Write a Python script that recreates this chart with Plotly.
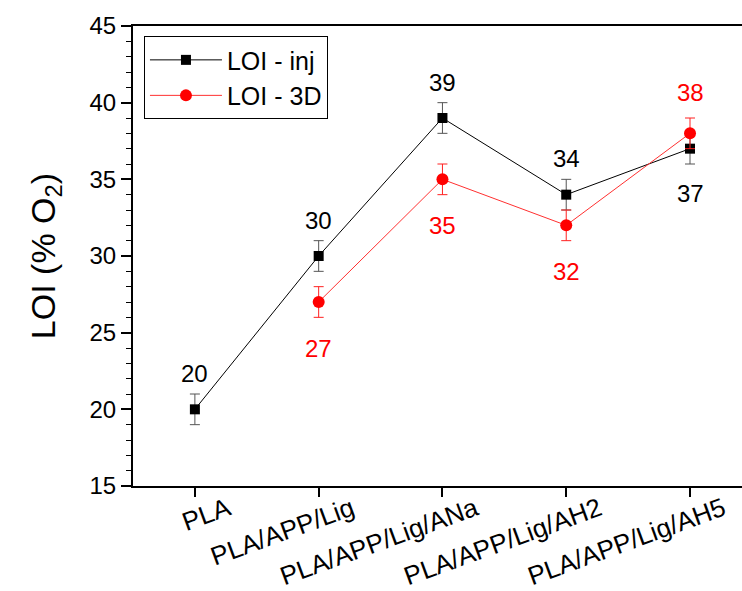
import plotly.graph_objects as go

categories = ["PLA", "PLA/APP/Lig", "PLA/APP/Lig/ANa", "PLA/APP/Lig/AH2", "PLA/APP/Lig/AH5"]
x_idx = [0, 1, 2, 3, 4]
loi_inj = [20, 30, 39, 34, 37]
loi_inj_err = [1, 1, 1, 1, 1]
x_3d = [1, 2, 3, 4]
loi_3d = [27, 35, 32, 38]
loi_3d_err = [1, 1, 1, 1]
inj_label_above = [True, True, True, True, False]
d3_label_above = [False, False, False, True]

FONT = "Arial, Liberation Sans, sans-serif"

fig = go.Figure()
fig.add_trace(go.Scatter(
    x=x_idx, y=loi_inj, mode="lines+markers", name="LOI - inj",
    line=dict(color="black", width=1),
    marker=dict(symbol="square", size=10, color="black"),
    error_y=dict(type="data", array=loi_inj_err, color="#555555", thickness=1, width=5),
))
fig.add_trace(go.Scatter(
    x=x_3d, y=loi_3d, mode="lines+markers", name="LOI - 3D",
    line=dict(color="#ff3030", width=1),
    marker=dict(symbol="circle", size=12, color="#ff0000"),
    error_y=dict(type="data", array=loi_3d_err, color="#ff2020", thickness=1, width=5),
))

for xi, v, up in zip(x_idx, loi_inj, inj_label_above):
    fig.add_annotation(x=xi, y=v, text=str(v), showarrow=False,
                       yshift=36 if up else -45,
                       font=dict(family=FONT, size=24, color="black"))
for xi, v, up in zip(x_3d, loi_3d, d3_label_above):
    fig.add_annotation(x=xi, y=v, text=str(v), showarrow=False,
                       yshift=41 if up else -46,
                       font=dict(family=FONT, size=24, color="#ff0000"))

fig.update_layout(
    width=742, height=591,
    margin=dict(l=133, r=0, t=26, b=105),
    paper_bgcolor="white", plot_bgcolor="white",
    font=dict(family=FONT, size=24, color="black"),
    showlegend=True,
    legend=dict(x=0.018, y=0.978, xanchor="left", yanchor="top",
                bordercolor="black", borderwidth=1, bgcolor="white",
                font=dict(family=FONT, size=25), tracegroupgap=0,
                itemwidth=72),
)
fig.update_xaxes(
    range=[-0.5, 4.42], tickmode="array", tickvals=x_idx, ticktext=categories,
    tickangle=-20, ticks="outside", ticklen=9, tickwidth=1.5, tickcolor="black",
    showline=True, linecolor="black", linewidth=2, mirror=True,
    showgrid=False, zeroline=False, ticklabelshift=33, ticklabelstandoff=-13,
    tickfont=dict(family=FONT, size=26), automargin=False,
)
fig.update_yaxes(
    range=[15, 45], tickmode="linear", tick0=15, dtick=5,
    ticks="outside", ticklen=10, tickwidth=1.5, tickcolor="black",
    minor=dict(ticks="outside", ticklen=5, dtick=1, tickcolor="black", tickwidth=1),
    showline=True, linecolor="black", linewidth=2, mirror=False,
    showgrid=False, zeroline=False, automargin=False,
    tickfont=dict(family=FONT, size=24),
    title=dict(text="LOI (% O<sub>2</sub>)", font=dict(family=FONT, size=34), standoff=24),
)

fig.write_html("out.html")
